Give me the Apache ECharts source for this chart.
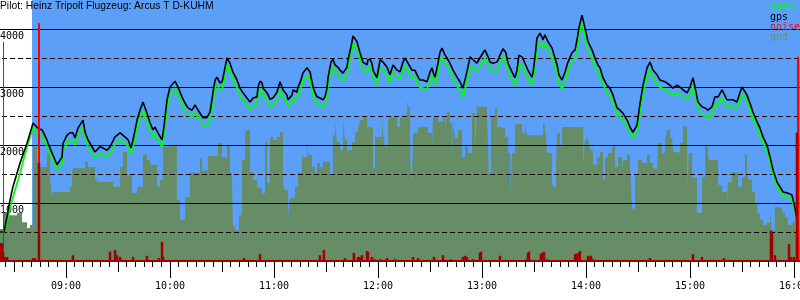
<!DOCTYPE html>
<html><head><meta charset="utf-8">
<script src="https://cdn.jsdelivr.net/npm/echarts@6/dist/echarts.min.js"></script>
<style>html,body{margin:0;padding:0;background:#fff}#c{width:800px;height:300px}</style>
</head><body><div id="c"></div>
<script>
// ---- data (time in minutes after midnight, altitude in m) ----
const chartTitle = 'Pilot: Heinz Tripolt Flugzeug: Arcus T D-KUHM';
const seriesNames = ['baro', 'gps', 'noise', 'gnd'];

const fixTime = [501.9,504.2,506.0,507.7,509.4,513.5,517.5,521.0,521.5,523.8,526.2,529.0,529.6,534.8,537.7,538.3,540.6,542.3,544.0,545.2,546.9,549.8,551.0,552.7,555.0,556.7,559.6,561.3,563.7,565.4,568.3,571.2,574.0,575.8,577.5,578.7,581.0,582.7,584.4,586.7,588.5,590.2,591.3,593.1,595.4,596.5,598.3,600.0,602.9,604.6,606.9,608.7,610.4,612.7,614.4,616.2,
617.3,619.0,621.3,623.1,624.2,624.8,626.0,627.1,627.7,628.8,630.0,630.6,631.7,632.9,634.6,636.3,638.7,640.4,642.1,644.4,646.2,647.9,650.2,650.8,651.9,653.1,653.7,656.0,657.7,659.4,661.7,663.5,664.6,665.2,666.3,667.5,668.1,669.2,670.4,671.0,672.1,673.3,673.8,675.0,676.7,679.0,680.8,682.5,683.6,684.8,686.5,688.3,689.4,690.6,691.2,692.9,694.0,695.2,696.9,698.1,699.8,702.1,702.7,704.4,705.6,707.9,709.6,711.3,713.7,714.2,715.4,716.5,717.1,719.4,721.2,722.9,725.2,726.9,728.7,729.8,731.0,
732.7,734.4,735.6,737.3,739.6,741.3,742.5,744.2,746.0,748.3,750.0,751.2,751.7,752.9,754.6,755.8,756.9,758.7,759.8,761.5,763.3,765.6,767.3,769.0,771.3,773.1,774.8,777.1,778.8,780.6,781.7,783.5,784.6,786.3,788.7,790.4,792.1,793.8,795.0,797.3,799.0,800.2,801.3,803.1,804.8,806.5,808.8,809.4,810.6,811.7,813.5,814.6,815.2,816.3,818.1,820.4,822.1,823.3,824.4,826.2,827.9,829.6,831.9,833.7,834.8,836.0,837.7,839.4,841.2,843.5,845.2,846.9,
848.1,849.8,852.1,853.8,855.6,857.9,859.6,861.3,863.7,865.4,867.1,869.4,871.2,872.9,875.2,876.9,878.7,881.0,882.7,885.6,888.5,890.2,892.5,894.2,896.0,898.3,900.0,901.7,902.9,904.6,906.9,908.7,910.4,912.7,914.4,916.2,918.5,919.6,921.3,923.1,924.8,927.1,928.8,930.0,932.9,934.6,936.3,938.7,940.4,942.1,944.4,946.2,947.9,950.2,951.9,953.7,956.5,958.8,960.6,961.7,962.3];

const gpsAlt = [500,500,760,1050,1280,1690,2030,2380,2400,2290,2260,2090,2030,1660,1790,2030,2170,2210,2210,2120,2290,2430,2220,2090,1970,1880,1970,1950,1910,1970,2140,2210,2140,2090,1950,2090,2430,2600,2740,2550,2380,2260,2310,2210,2090,2310,2780,3000,3100,3000,2830,2720,2640,2600,2690,2600,
2570,2470,2470,2570,2780,2910,3120,3170,3170,3070,3090,3160,3330,3500,3410,3260,3120,2980,2900,2810,2740,2810,2830,3000,3100,3070,2980,2900,2790,2810,2910,3090,3000,2950,2950,2860,2780,2780,2860,2950,2950,2910,3000,3070,3240,3330,3260,3000,2910,2830,2810,2780,2830,2980,3170,3430,3480,3380,3340,3290,3240,3340,3470,3690,3880,3780,3590,3430,3380,3470,3480,3410,3290,3160,3470,3430,3340,3210,3380,3410,3290,
3260,3430,3500,3410,3290,3290,3210,3120,3120,3090,3260,3330,3260,3170,3410,3600,3670,3550,3500,3410,3290,3170,3090,2980,3260,3520,3470,3410,3500,3590,3640,3520,3430,3410,3430,3550,3660,3590,3410,3260,3160,3290,3550,3520,3410,3290,3170,3240,3520,3840,3930,3860,3810,3900,3780,3670,3500,3380,3210,3120,3260,3430,3590,3640,3810,4030,4240,4020,3780,3640,3500,3380,
3330,3160,3030,2980,2860,2640,2600,2550,2430,2310,2220,2340,2720,3030,3330,3430,3290,3210,3120,3090,3030,2980,3030,3000,2950,2900,3000,3160,3000,2740,2660,2640,2600,2660,2830,2830,2950,2950,2780,2780,2780,2740,2900,3000,2860,2720,2570,2400,2290,2140,2000,1790,1570,1360,1280,1190,1170,1140,910,710,570];

const baroAlt = [500,500,670,910,1100,1520,1970,2290,2280,2200,2150,1980,1930,1570,1680,1900,2040,2090,2090,2000,2160,2310,2110,1980,1860,1780,1850,1830,1800,1850,2020,2090,2030,1980,1840,1960,2290,2470,2610,2420,2260,2140,2180,2090,1970,2150,2620,2860,2980,2880,2710,2600,2520,2480,2560,2470,
2430,2340,2330,2430,2620,2760,2980,3040,3040,2950,2960,3020,3200,3380,3280,3140,2990,2860,2770,2690,2610,2680,2700,2860,2970,2950,2860,2770,2660,2680,2780,2950,2870,2830,2820,2740,2660,2650,2730,2820,2830,2790,2870,2940,3110,3200,3130,2870,2780,2710,2680,2650,2690,2840,3030,3290,3350,3260,3210,3160,3110,3200,3330,3550,3760,3650,3460,3300,3250,3330,3350,3290,3170,3040,3330,3310,3210,3080,3250,3280,3170,
3130,3290,3370,3280,3160,3170,3080,2990,2980,2960,3130,3190,3140,3040,3270,3460,3520,3410,3370,3270,3150,3020,2940,2820,3100,3370,3330,3270,3360,3450,3500,3380,3300,3270,3290,3410,3520,3450,3270,3120,3020,3150,3410,3380,3270,3150,3040,3100,3370,3690,3780,3720,3670,3760,3640,3520,3360,3240,3060,2960,3110,3280,3450,3500,3660,3880,4100,3880,3640,3500,3360,3240,
3190,3040,2910,2850,2730,2530,2490,2440,2320,2200,2120,2200,2570,2880,3190,3290,3160,3070,2990,2960,2900,2860,2900,2870,2830,2780,2860,3020,2870,2620,2530,2510,2470,2530,2700,2700,2820,2830,2660,2650,2660,2620,2780,2890,2750,2610,2460,2300,2190,2040,1900,1700,1490,1290,1210,1120,1100,1070,860,680,530];

const gndTime = [501.9,503.7,506.5,511.7,514.6,517.5,519.2,521.0,523.3,525.0,529.0,530.8,531.9,532.5,542.3,543.5,544.0,551.0,552.7,556.7,557.9,567.1,571.2,572.9,575.2,578.1,581.0,584.4,586.7,588.5,592.5,594.2,596.0,598.3,604.0,605.8,608.7,611.5,
617.3,618.5,621.9,627.7,630.0,632.9,634.6,635.8,636.3,637.5,639.8,641.5,643.3,644.4,646.2,647.9,650.2,653.1,654.8,656.0,657.7,659.4,661.7,663.5,665.2,666.3,668.1,669.2,672.1,673.8,676.2,676.7,679.0,679.6,681.9,683.6,684.8,686.5,688.3,692.3,694.0,695.2,696.3,698.1,699.8,700.9,702.1,705.0,706.7,708.5,709.6,711.3,713.7,715.4,717.1,718.3,722.3,722.9,724.0,725.8,726.9,731.0,
732.7,736.7,737.3,738.5,739.6,740.2,743.1,745.4,746.0,748.8,751.2,751.7,754.6,757.5,758.7,759.8,761.5,762.7,763.3,764.4,766.1,768.5,770.2,771.9,774.2,776.0,777.1,782.9,784.0,785.2,787.5,788.7,790.4,793.3,795.0,796.2,797.3,799.0,803.1,804.8,805.9,807.7,815.2,815.8,816.9,817.5,820.4,821.0,822.7,823.3,825.0,826.2,838.3,839.4,840.6,841.2,842.3,844.0,846.3,
848.1,849.8,851.0,852.7,855.0,856.7,858.5,860.8,861.3,863.7,865.4,866.5,867.1,868.3,870.0,872.3,875.2,876.9,878.7,881.0,881.5,883.8,885.6,886.7,888.5,889.6,890.2,892.5,894.2,896.0,897.1,898.3,899.4,901.2,904.0,906.9,908.7,910.4,911.5,916.2,918.5,921.3,921.9,924.2,925.9,927.7,930.0,931.7,932.9,933.5,935.8,937.5,938.7,940.4,942.1,944.4,946.2,947.3,949.0,950.2,953.1,954.8,956.5,958.8,960.6,962.3,963.5];

const gndAlt = [550,840,790,830,670,570,620,1970,1710,1620,1860,1450,1100,1190,1280,1520,1600,1710,1620,1400,1360,1280,1620,1880,1480,1170,1280,1830,1740,1660,1280,1400,1970,2000,1050,710,1100,1520,
1780,1560,1810,2030,1790,2000,1520,1340,590,530,790,1740,2210,2260,1530,1400,1260,1170,2050,1340,2140,2090,2140,2220,1340,1220,760,1090,1280,1520,1860,1790,2090,1830,1620,1520,1690,1620,1710,1480,2170,2400,2050,1910,2430,2090,1910,2050,2220,2290,2430,2480,2310,2290,1600,2140,2480,2210,1970,2430,2480,2310,
2470,2780,2660,1740,1340,2210,2310,2360,2310,2210,1860,2480,2400,2480,2290,2570,2380,1790,2430,2120,2260,1790,1970,1860,2550,1860,2660,2480,1520,2480,2640,2310,2290,2140,1860,1170,1860,2360,2210,2380,2170,2170,2340,2410,2140,1860,1340,1280,1660,2210,1970,2310,1690,2090,2170,2120,1910,1660,1790,
1880,1400,1790,1860,1970,1620,1790,1570,1740,1830,1620,930,880,1480,1740,1690,1830,1690,1600,1450,2030,1860,2090,2260,2090,2140,1880,1860,2030,2340,2310,1310,1860,1430,830,1450,1970,1790,1740,1310,1190,930,1360,1530,1520,1280,1450,1830,1570,1400,1190,1000,830,710,620,660,830,530,930,910,830,760,620,670,530,530,530];

const noiseTime = [502.5,503.1,503.7,504.8,506.0,521.0,522.1,524.4,544.0,565.4,568.3,569.4,571.2,578.7,586.7,593.6,595.4,596.0,642.7,651.9,686.5,688.8,700.9,706.1,708.5,709.6,710.8,713.7,714.2,716.5,718.3,721.2,725.2,729.8,740.2,743.1,752.3,757.5,762.1,769.0,770.2,771.3,774.8,778.8,779.4,790.4,805.9,806.5,807.1,814.0,814.6,815.2,815.8,817.5,833.7,834.8,835.4,836.5,841.2,841.7,842.9,844.0,876.9,901.7,906.9,919.6,946.7,947.3,949.0,957.1,958.3,960.0,961.7];
const noiseVal = [310,310,140,70,70,50,50,1690,100,160,190,100,70,70,90,50,330,70,50,120,100,190,50,140,70,70,100,170,160,70,30,30,50,30,70,50,70,100,30,70,90,70,30,140,160,90,30,140,160,120,140,120,160,30,120,120,140,170,90,70,90,30,50,120,70,50,520,480,100,290,70,70,2210];

// event markers (red verticals): time and top altitude
const eventTime = [503.7, 524.4, 962.3];
const eventTop = [3780, 4100, 3520];
const eventWidth = [1, 2, 2];
const flightStart = 520.4;

const hourMin = 480, hourMax = 1020;
const yMax = 4500;

// ---- chart ----
const mono = 'DejaVu Sans Mono';
const pad = n => String(n).padStart(2, '0');
const fmtTime = v => pad(Math.floor(v / 60)) + ':' + pad(Math.round(v % 60));
const zip = (a, b) => a.map((t, i) => [t, b[i]]);

const chart = echarts.init(document.getElementById('c'), null, {renderer: 'canvas'});
chart.setOption({
  animation: false,
  title: {text: chartTitle, left: 0, top: 0, padding: [1, 0, 0, 0],
    textStyle: {fontFamily: 'Liberation Sans', fontSize: 10.3, fontWeight: 'normal', color: '#000'}},
  legend: {
    orient: 'vertical', left: 765, top: 2, itemGap: 0, itemWidth: 0, itemHeight: 10,
    icon: 'none', selectedMode: false, padding: 0,
    textStyle: {fontFamily: mono, fontSize: 10, lineHeight: 10},
    data: [
      {name: 'baro', textStyle: {color: '#00ff00'}},
      {name: 'gps', textStyle: {color: '#000000'}},
      {name: 'noise', textStyle: {color: '#ff0000'}},
      {name: 'gnd', textStyle: {color: '#6f8f6f'}}
    ]
  },
  grid: {left: -38, right: -98, top: 0, bottom: 39, containLabel: false, outerBoundsMode: 'none'},
  xAxis: [
    {type: 'value', min: hourMin, max: hourMax, interval: 60, position: 'bottom', z: 7,
      axisLine: {onZero: false, lineStyle: {color: '#a00000', width: 2}},
      axisTick: {length: 17, lineStyle: {color: '#000', width: 1}},
      minorTick: {show: true, splitNumber: 12, length: 6, lineStyle: {color: '#000', width: 1}},
      splitLine: {show: false}, minorSplitLine: {show: false},
      axisLabel: {formatter: fmtTime, margin: 20, fontFamily: mono, fontSize: 10, color: '#000',
        showMinLabel: true, showMaxLabel: true, interval: 0}},
    {type: 'value', min: hourMin, max: hourMax, interval: 30, position: 'bottom', z: 7,
      axisLine: {show: false, onZero: false},
      axisTick: {length: 11, lineStyle: {color: '#000', width: 1}},
      splitLine: {show: false}, axisLabel: {show: false}}
  ],
  yAxis: [
    {type: 'value', min: 0, max: yMax, interval: 500, position: 'left', offset: -38, z: 2,
      axisLine: {show: false, onZero: false}, axisTick: {show: false}, axisLabel: {show: false},
      splitLine: {show: true, showMinLine: false, showMaxLine: false, lineStyle: {color: '#000', width: 1, type: [5, 3]}}},
    {type: 'value', min: 0, max: yMax, interval: 1000, position: 'left', offset: -38, z: 2.1,
      axisLine: {show: false, onZero: false}, axisTick: {show: false},
      axisLabel: {inside: true, margin: 0, verticalAlign: 'top', padding: [2, 0, 0, 0],
        fontFamily: mono, fontSize: 10, color: '#000',
        formatter: v => (v > 0 && v % 1000 === 0) ? String(v) : ''},
      splitLine: {show: true, showMinLine: false, showMaxLine: false, lineStyle: {color: '#000', width: 1, type: 'solid'}}}
  ],
  series: [
    {name: 'gnd', type: 'line', step: 'end', z: 1, showSymbol: false, silent: true,
      color: '#678d66', lineStyle: {width: 0, opacity: 0},
      areaStyle: {color: '#678d66', opacity: 1},
      data: zip(gndTime, gndAlt),
      markArea: {silent: true, z: 0, itemStyle: {color: '#5b9ff9'},
        data: [[{xAxis: flightStart, yAxis: 0}, {xAxis: hourMax, yAxis: yMax}]]},
      markLine: {silent: true, z: 4, symbol: ['none', 'none'], label: {show: false},
        data: eventTime.map((t, i) => [
          {coord: [t, eventTop[i]], lineStyle: {color: '#ff0000', width: eventWidth[i], type: 'solid'}},
          {coord: [t, 0]}])}
    },
    {name: 'baro', type: 'line', z: 3, showSymbol: false, silent: true, color: '#00ff00',
      lineStyle: {color: '#00ff00', width: 1.8}, data: zip(fixTime, baroAlt)},
    {name: 'gps', type: 'line', z: 3.5, showSymbol: false, silent: true, color: '#000000',
      lineStyle: {color: '#000000', width: 1.6}, data: zip(fixTime, gpsAlt)},
    {name: 'noise', type: 'bar', z: 6, silent: true, barWidth: 2.5, color: '#a00000',
      itemStyle: {color: '#a00000'}, data: zip(noiseTime, noiseVal)}
  ]
});
</script></body></html>
